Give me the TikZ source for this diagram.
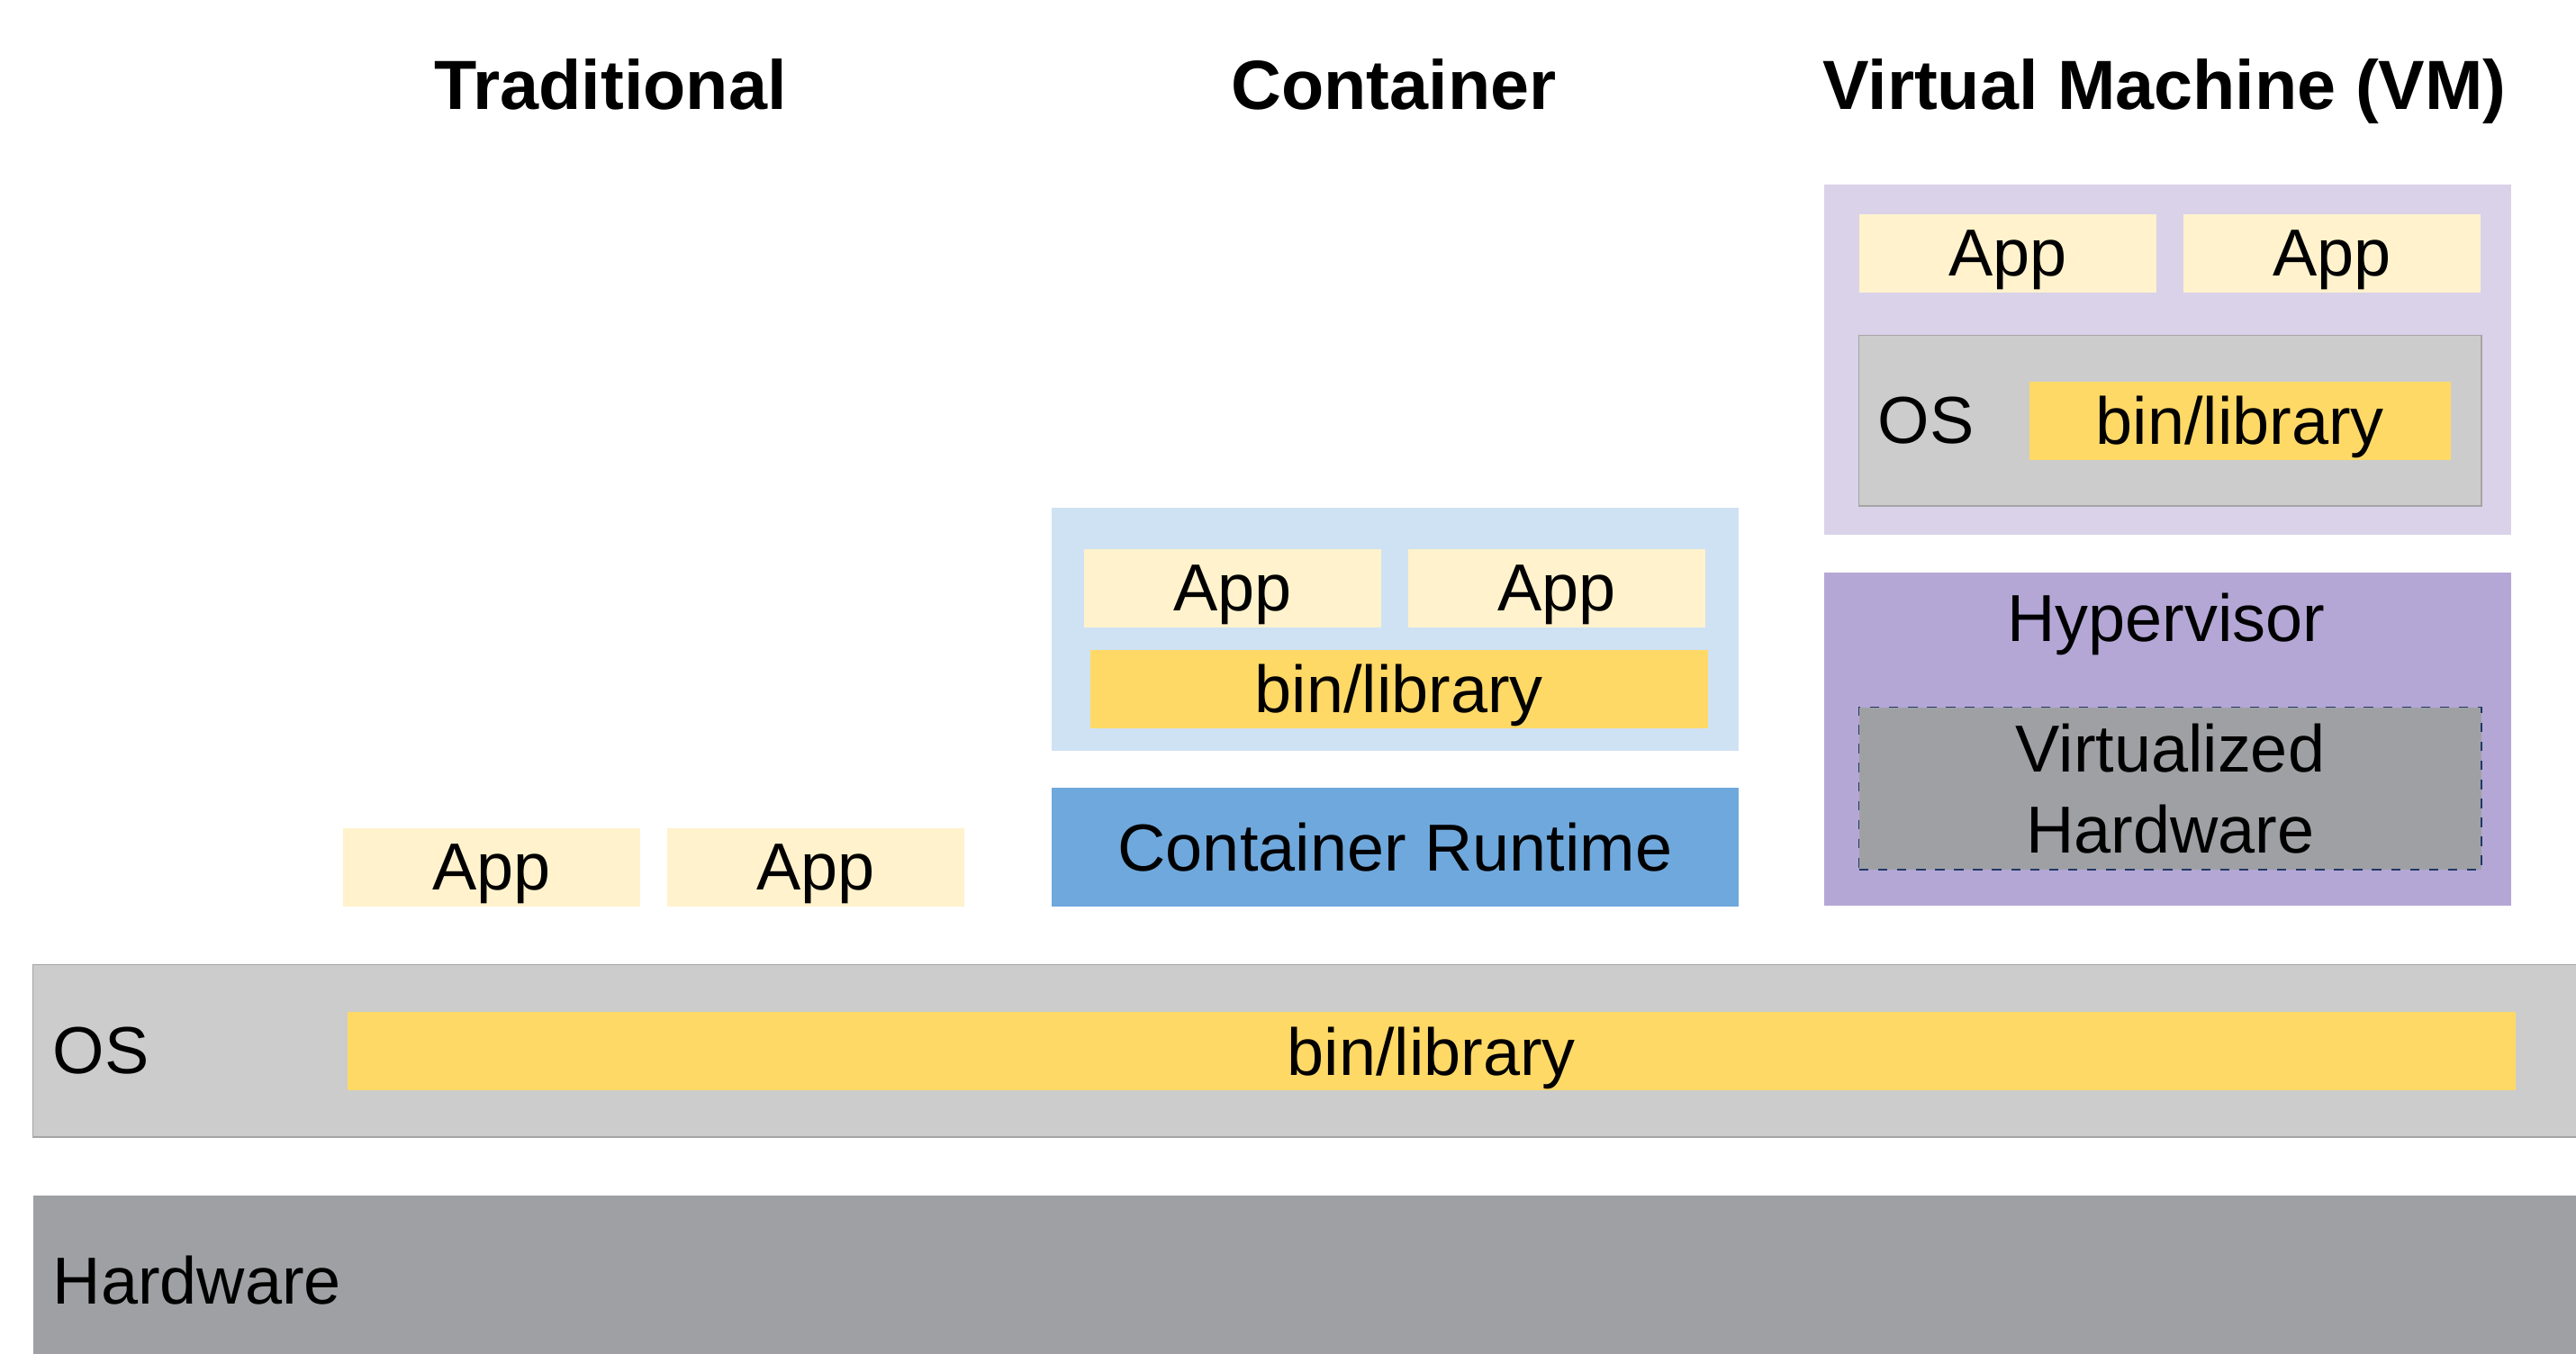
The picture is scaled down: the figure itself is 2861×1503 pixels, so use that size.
\documentclass[tikz,border=0pt]{standalone}
\usepackage{fontspec}
\setmainfont{Liberation Sans}
\usepackage{xcolor}
\usepackage{tikz}

\definecolor{appyellow}{HTML}{FFF2CC}
\definecolor{libyellow}{HTML}{FFD966}
\definecolor{osgray}{HTML}{CCCCCC}
\definecolor{osedge}{HTML}{A5A5A5}
\definecolor{hwgray}{HTML}{9FA0A4}
\definecolor{ctrblue}{HTML}{CFE2F3}
\definecolor{rtblue}{HTML}{6FA8DC}
\definecolor{vmlilac}{HTML}{D9D2E9}
\definecolor{hvlilac}{HTML}{B4A7D6}
\definecolor{navy}{HTML}{203864}

\begin{document}
\begin{tikzpicture}[x=0.01cm,y=-0.01cm,
    blk/.style={rectangle,inner sep=0pt,anchor=north west,text depth=0pt,
        font=\fontsize{21}{25.5}\selectfont},
    app/.style={blk,fill=appyellow,minimum width=3.3cm,minimum height=0.87cm},
    lib/.style={blk,fill=libyellow,minimum height=0.87cm},
    lbl/.style={anchor=west,inner sep=0pt,text depth=0pt,font=\fontsize{21}{25.5}\selectfont},
    head/.style={anchor=base,inner sep=0pt,font=\fontsize{22}{26}\selectfont\bfseries}]
    \useasboundingbox (0,0) rectangle (2861,1503);

    % column titles
    \node[head] (t1) at (678,122) {Traditional};
    \node[head] (t2) at (1548,122) {Container};
    \node[head] (t3) at (2404,122) {Virtual Machine (VM)};

    % shared layers
    \node[blk,fill=hwgray,minimum width=28.3cm,minimum height=1.8cm] (hw) at (36,1327) {};
    \node[lbl] (hwtxt) at (58,1422) {Hardware};
    \node[blk,fill=osgray,draw=osedge,minimum width=28.3cm,minimum height=1.91cm] (os) at (36,1071) {};
    \node[lbl] (ostxt) at (58,1167) {OS};
    \node[lib,minimum width=24.07cm] (oslib) at (385,1123) {bin/library};

    % traditional
    \node[app] (tapp1) at (380,919) {App};
    \node[app] (tapp2) at (740,919) {App};

    % container
    \node[blk,fill=ctrblue,minimum width=7.63cm,minimum height=2.7cm] (ctr) at (1167,563) {};
    \node[app] (capp1) at (1203,609) {App};
    \node[app] (capp2) at (1563,609) {App};
    \node[lib,minimum width=6.86cm] (clib) at (1210,721) {bin/library};
    \node[blk,fill=rtblue,minimum width=7.63cm,minimum height=1.32cm] (rt) at (1167,874) {Container Runtime};

    % virtual machine
    \node[blk,fill=vmlilac,minimum width=7.63cm,minimum height=3.89cm] (vm) at (2025,204) {};
    \node[app] (vapp1) at (2064,237) {App};
    \node[app] (vapp2) at (2424,237) {App};
    \node[blk,fill=osgray,draw=osedge,minimum width=6.91cm,minimum height=1.89cm] (vos) at (2064,372) {};
    \node[lib,minimum width=4.68cm] (vlib) at (2253,423) {bin/library};
    \node[lbl] (vostxt) at (2085,467) {OS};
    \node[blk,fill=hvlilac,minimum width=7.63cm,minimum height=3.7cm] (hv) at (2025,635) {};
    \node[lbl,anchor=center] (hvtxt) at (2406,686) {Hypervisor};
    \node[blk,fill=hwgray,draw=navy,dashed,minimum width=6.91cm,minimum height=1.8cm,align=center] (vhw) at (2064,785) {Virtualized\\Hardware};
\end{tikzpicture}
\end{document}
